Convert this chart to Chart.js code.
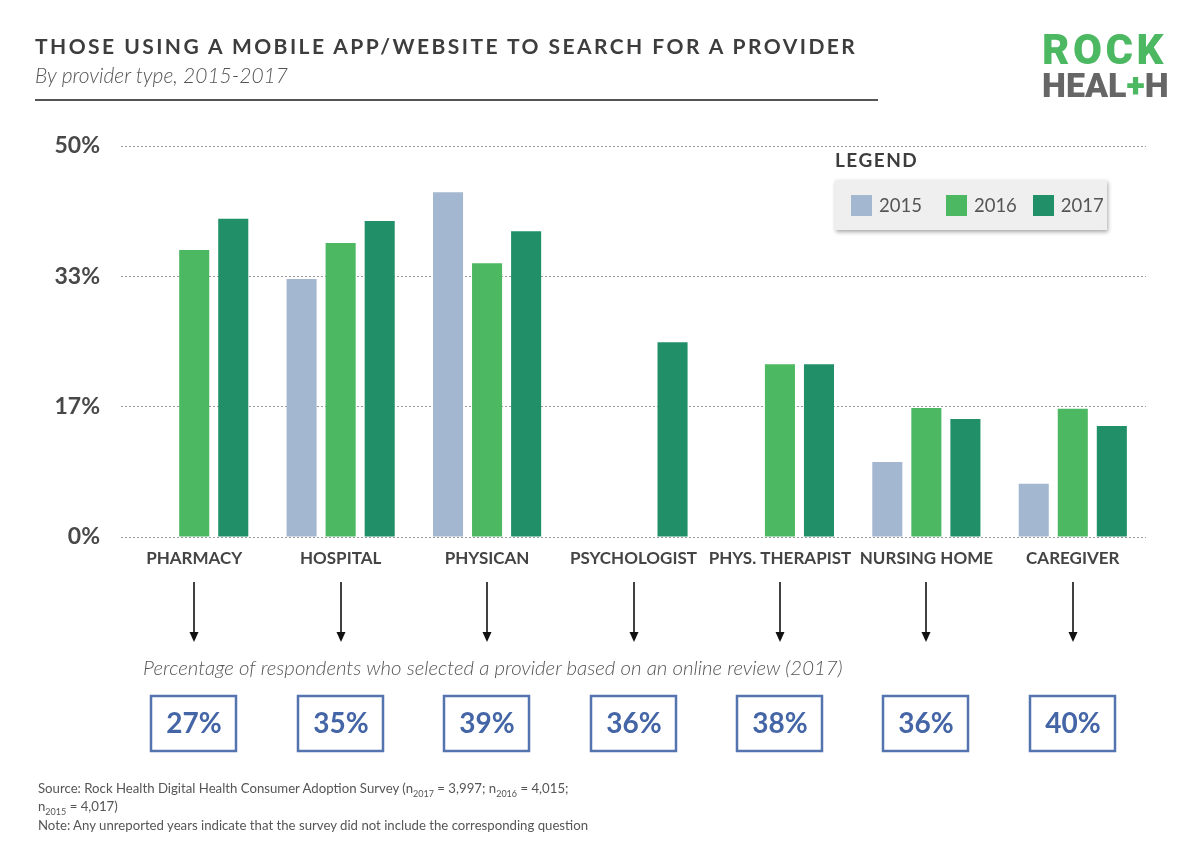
<!DOCTYPE html>
<html><head><meta charset="utf-8">
<script src="https://cdn.jsdelivr.net/npm/chart.js@4.4.0/dist/chart.umd.min.js"></script>
<style>
body{margin:0;background:#fff;width:1200px;height:868px;position:relative;overflow:hidden;font-family:Lato,sans-serif;}
#c{position:absolute;left:0;top:0}
.t{position:absolute;white-space:nowrap}
#legend{position:absolute;left:835px;top:180px;width:272px;height:50px;background:#efefef;box-shadow:1px 2px 4px rgba(0,0,0,0.35);display:flex;align-items:center;padding-left:16px;box-sizing:border-box}
.li{display:flex;align-items:center;font:400 18.5px Lato;color:#555}
.li:nth-child(1){margin-right:24px}
.li:nth-child(2){margin-right:16px}
.sw{width:21px;height:21px;margin-right:7px}
.src{font:400 13.2px Lato;color:#555}
sub{font-size:9px}
</style></head><body>
<canvas id="c" width="1200" height="868"></canvas>
<div class="t" style="left:35px;top:33px;font:700 21px Lato;letter-spacing:2.45px;color:#3d3d3d">THOSE USING A MOBILE APP/WEBSITE TO SEARCH FOR A PROVIDER</div>
<div class="t" style="left:35px;top:62px;font:italic 300 21px Lato;color:#555">By provider type, 2015-2017</div>
<div style="position:absolute;left:35px;top:99px;width:843px;height:2px;background:#555"></div>
<div class="t" style="left:1042px;top:26px;font:900 42px Roboto;color:#4cb862;letter-spacing:3.5px;line-height:48px">ROCK</div>
<div class="t" style="left:1042px;top:66px;font:900 34px Roboto;color:#666;letter-spacing:0px;line-height:38px">HEAL<span style="color:#4cb862">+</span>H</div>
<div class="t" style="left:835px;top:148px;font:700 19px Lato;letter-spacing:1.5px;color:#3d3d3d">LEGEND</div>
<div id="legend"></div>
<div class="t" style="left:143px;top:655px;font:italic 300 20.4px Lato;color:#555">Percentage of respondents who selected a provider based on an online review (2017)</div>
<div class="t src" style="left:38px;top:780px">Source: Rock Health Digital Health Consumer Adoption Survey (n<sub>2017</sub> = 3,997; n<sub>2016</sub> = 4,015;</div>
<div class="t src" style="left:38px;top:798px">n<sub>2015</sub> = 4,017)</div>
<div class="t src" style="left:38px;top:817px">Note: Any unreported years indicate that the survey did not include the corresponding question</div>
<script>
const categories = ['PHARMACY','HOSPITAL','PHYSICAN','PSYCHOLOGIST','PHYS. THERAPIST','NURSING HOME','CAREGIVER'];
const years = ['2015','2016','2017'];
const values2015 = [null, 33.0, 44.1, null, null, 9.6, 6.8];
const values2016 = [36.7, 37.6, 35.0, null, 22.1, 16.5, 16.4];
const values2017 = [40.7, 40.4, 39.1, 24.9, 22.1, 15.1, 14.2];
const reviewPct = [27, 35, 39, 36, 38, 36, 40];
const yTicks = [0, 50/3, 100/3, 50];
const colors = ['#a4b7d0', '#4cb862', '#218f68'];

const series = [values2015, values2016, values2017];
const lg = document.getElementById('legend');
years.forEach((y,i)=>{
  const d = document.createElement('div'); d.className='li';
  d.innerHTML = '<div class="sw" style="background:'+colors[i]+'"></div>'+y;
  lg.appendChild(d);
});

const annot = {
  id:'annot',
  afterDraw(chart){
    const ctx = chart.ctx, x = chart.scales.x;
    ctx.save();
    reviewPct.forEach((v,i)=>{
      const cx = Math.round(x.getPixelForValue(i));
      ctx.strokeStyle='#111'; ctx.lineWidth=1.6;
      ctx.beginPath(); ctx.moveTo(cx,582); ctx.lineTo(cx,634); ctx.stroke();
      ctx.fillStyle='#111'; ctx.beginPath();
      ctx.moveTo(cx-4.5,632); ctx.lineTo(cx+4.5,632); ctx.lineTo(cx,642); ctx.closePath(); ctx.fill();
      ctx.strokeStyle='#5474b0'; ctx.lineWidth=2.5;
      ctx.strokeRect(cx-43,696,85,55);
      ctx.fillStyle='#4465a6'; ctx.font='700 28px Lato';
      ctx.textAlign='center'; ctx.textBaseline='middle';
      ctx.fillText(v+'%', cx, 724);
    });
    ctx.restore();
  }
};

function build(){
  new Chart(document.getElementById('c'), {
    type:'bar',
    data:{
      labels:categories,
      datasets: years.map((y,i)=>({label:y, data:series[i], backgroundColor:colors[i], borderWidth:0}))
    },
    plugins:[annot],
    options:{
      responsive:false, animation:false,
      layout:{padding:{left:0,right:54,top:146,bottom:291}},
      plugins:{legend:{display:false}, tooltip:{enabled:false}},
      datasets:{bar:{categoryPercentage:0.8, barPercentage:0.77}},
      scales:{
        x:{
          grid:{display:false}, border:{display:false},
          afterFit(s){ s.height = 40; },
          ticks:{autoSkip:false, maxRotation:0, padding:3, color:'#444', font:{family:'Lato', size:17, weight:'700'}}
        },
        y:{
          min:0, max:50,
          afterFit(s){ s.width = 121; },
          afterBuildTicks(s){ s.ticks = yTicks.map(v=>({value:v})); },
          border:{display:false, dash:[2,2]},
          grid:{color:'#9a9a9a', lineWidth:1, drawTicks:false},
          ticks:{padding:21, color:'#484848', font:{family:'Lato', size:23, weight:'700'},
            callback:(v)=>Math.round(v)+'%'}
        }
      }
    }
  });
}
Promise.all([document.fonts.load('700 17px Lato'),document.fonts.load('700 23px Lato'),document.fonts.load('700 28px Lato')]).then(build, build);
</script>
</body></html>
